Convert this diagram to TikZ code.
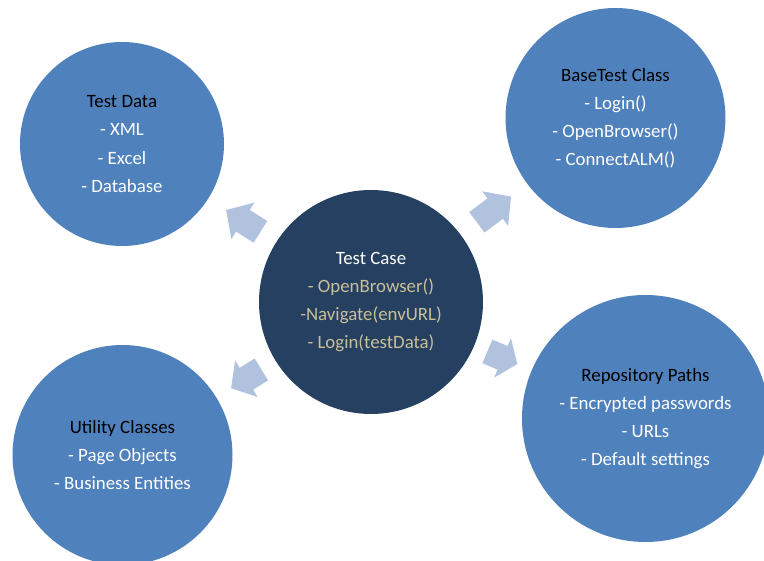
\documentclass[tikz,border=0pt]{standalone}
\usepackage{fontspec}
\setmainfont{Carlito}
\usepackage{xcolor}
\usetikzlibrary{arrows.meta}
\usetikzlibrary{calc}

\definecolor{outerblue}{HTML}{4F81BD}
\definecolor{hubnavy}{HTML}{264061}
\definecolor{arrowblue}{HTML}{B1C2DE}
\definecolor{itemtan}{HTML}{C9BF99}

\tikzset{
  bubble/.style={circle, fill=outerblue, inner sep=0pt, minimum size=#1,
                 text=white, align=center,
                 font=\fontsize{13.4}{20}\selectfont},
  hub/.style={bubble=#1, fill=hubnavy, text=itemtan},
  pointer/.style={arrowblue, line width=0.64cm,
                  -{Triangle[length=#1, width=1.05cm]}},
  pointer/.default=0.5cm
}

\begin{document}
\begin{tikzpicture}
\useasboundingbox (0,0) rectangle (19.1,14.025);

% the test case in the middle
\node[hub=5.6cm] (case) at (9.275,6.475)
  {{\color{white}Test Case}\\ - OpenBrowser()\\ -Navigate(envURL)\\ - Login(testData)};

% what it draws on
\node[bubble=5.1cm] (data) at (3.05,10.425)
  {{\color{black}Test Data}\\ - XML\\ - Excel\\ - Database};
\node[bubble=5.5cm] (base) at (15.3875,11.075)
  {{\color{black}BaseTest Class}\\ - Login()\\ - OpenBrowser()\\ - ConnectALM()};
\node[bubble=5.5cm] (util) at (3.0625,2.65)
  {{\color{black}Utility Classes}\\ - Page Objects\\ - Business Entities};
\node[bubble=6.175cm] (repo) at (16.1375,3.5625)
  {{\color{black}Repository Paths}\\ - Encrypted passwords\\ - URLs\\ - Default settings};

% block arrows pointing outwards
\draw[pointer] ($(case)!0.444!(data)$) -- ($(case)!0.582!(data)$);
\draw[pointer] ($(case)!0.433!(base)$) -- ($(case)!0.573!(base)$);
\draw[pointer=0.45cm] ($(case)!0.441!(util)$) -- ($(case)!0.563!(util)$);
\draw[pointer=0.4cm] ($(case)!0.424!(repo)$) -- ($(case)!0.533!(repo)$);
\end{tikzpicture}
\end{document}
